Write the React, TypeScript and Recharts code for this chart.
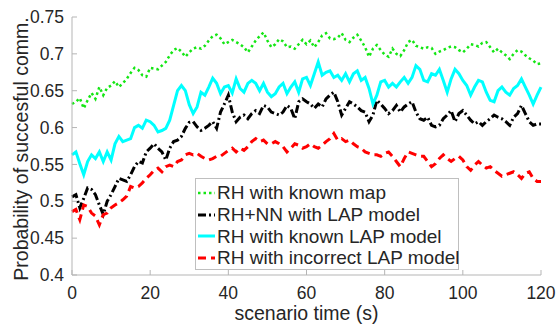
import { Line, LineChart, XAxis, YAxis } from 'recharts';

const FONT = '"Liberation Sans", Arial, Helvetica, sans-serif';
const TEXT = '#262626';
const AXIS = '#b5b5b5';

const seconds = [
  0, 1, 2, 3, 4, 5, 6, 7, 8, 9, 10, 11, 12, 13, 14, 15, 16, 17, 18, 19, 20, 21, 22, 23, 24, 25, 26, 27, 28, 29,
  30, 31, 32, 33, 34, 35, 36, 37, 38, 39, 40, 41, 42, 43, 44, 45, 46, 47, 48, 49, 50, 51, 52, 53, 54, 55, 56, 57, 58, 59,
  60, 61, 62, 63, 64, 65, 66, 67, 68, 69, 70, 71, 72, 73, 74, 75, 76, 77, 78, 79, 80, 81, 82, 83, 84, 85, 86, 87, 88, 89,
  90, 91, 92, 93, 94, 95, 96, 97, 98, 99, 100, 101, 102, 103, 104, 105, 106, 107, 108, 109, 110, 111, 112, 113, 114, 115, 116, 117, 118, 119, 120,
];

const knownMap = [
  0.632, 0.635, 0.64, 0.626, 0.637, 0.647, 0.639, 0.655, 0.644, 0.654, 0.657, 0.663, 0.655, 0.66, 0.666, 0.674, 0.681, 0.678, 0.671, 0.669,
  0.681, 0.68, 0.679, 0.684, 0.689, 0.698, 0.705, 0.708, 0.703, 0.696, 0.702, 0.707, 0.709, 0.707, 0.711, 0.718, 0.724, 0.726, 0.721, 0.713,
  0.716, 0.719, 0.716, 0.713, 0.709, 0.702, 0.71, 0.718, 0.724, 0.729, 0.718, 0.709, 0.713, 0.72, 0.717, 0.709, 0.71, 0.707, 0.713, 0.719,
  0.713, 0.718, 0.709, 0.716, 0.725, 0.728, 0.721, 0.72, 0.722, 0.728, 0.719, 0.716, 0.722, 0.726, 0.718, 0.709, 0.696, 0.707, 0.712, 0.705,
  0.699, 0.696, 0.707, 0.7, 0.697, 0.705, 0.716, 0.719, 0.711, 0.709, 0.707, 0.709, 0.708, 0.7, 0.703, 0.705, 0.708, 0.71, 0.709, 0.705,
  0.702, 0.707, 0.713, 0.712, 0.71, 0.715, 0.716, 0.709, 0.702, 0.707, 0.702, 0.698, 0.693, 0.7, 0.705, 0.703, 0.698, 0.694, 0.691, 0.686, 0.687,
];

const nnLap = [
  0.506, 0.509, 0.491, 0.504, 0.518, 0.516, 0.509, 0.495, 0.482, 0.5, 0.509, 0.52, 0.531, 0.529, 0.527, 0.536, 0.547, 0.554, 0.552, 0.567,
  0.572, 0.578, 0.572, 0.567, 0.556, 0.572, 0.581, 0.583, 0.588, 0.599, 0.607, 0.608, 0.601, 0.596, 0.599, 0.603, 0.608, 0.599, 0.621, 0.632,
  0.644, 0.621, 0.608, 0.614, 0.617, 0.612, 0.619, 0.623, 0.619, 0.63, 0.628, 0.621, 0.619, 0.617, 0.621, 0.63, 0.626, 0.612, 0.635, 0.639,
  0.635, 0.632, 0.626, 0.632, 0.628, 0.639, 0.644, 0.648, 0.635, 0.617, 0.626, 0.635, 0.632, 0.628, 0.623, 0.621, 0.608, 0.617, 0.637, 0.632,
  0.626, 0.619, 0.623, 0.63, 0.621, 0.628, 0.632, 0.635, 0.621, 0.612, 0.61, 0.614, 0.603, 0.601, 0.603, 0.612, 0.617, 0.623, 0.608, 0.619,
  0.623, 0.617, 0.61, 0.605, 0.608, 0.603, 0.608, 0.612, 0.617, 0.614, 0.612, 0.608, 0.603, 0.614, 0.619, 0.63, 0.619, 0.608, 0.603, 0.605, 0.605,
];

const knownLap = [
  0.563, 0.567, 0.551, 0.536, 0.554, 0.563, 0.558, 0.567, 0.554, 0.567, 0.556, 0.578, 0.588, 0.581, 0.583, 0.585, 0.6, 0.603, 0.599, 0.61,
  0.608, 0.603, 0.594, 0.596, 0.599, 0.61, 0.63, 0.65, 0.657, 0.65, 0.631, 0.619, 0.628, 0.648, 0.644, 0.655, 0.667, 0.66, 0.646, 0.655,
  0.657, 0.647, 0.666, 0.653, 0.648, 0.66, 0.664, 0.66, 0.65, 0.66, 0.648, 0.642, 0.646, 0.655, 0.66, 0.646, 0.655, 0.662, 0.648, 0.666,
  0.668, 0.657, 0.673, 0.689, 0.671, 0.675, 0.677, 0.668, 0.671, 0.664, 0.673, 0.662, 0.673, 0.677, 0.664, 0.668, 0.653, 0.632, 0.644, 0.662,
  0.664, 0.655, 0.66, 0.655, 0.662, 0.668, 0.66, 0.668, 0.684, 0.679, 0.664, 0.662, 0.673, 0.671, 0.679, 0.664, 0.648, 0.666, 0.679, 0.673,
  0.664, 0.657, 0.644, 0.655, 0.664, 0.662, 0.648, 0.637, 0.635, 0.65, 0.655, 0.648, 0.644, 0.653, 0.657, 0.666, 0.655, 0.644, 0.632, 0.644, 0.655,
];

const wrongLap = [
  0.486, 0.489, 0.475, 0.495, 0.493, 0.484, 0.48, 0.468, 0.482, 0.484, 0.491, 0.495, 0.498, 0.502, 0.507, 0.52, 0.518, 0.52, 0.525, 0.531,
  0.536, 0.542, 0.545, 0.54, 0.547, 0.549, 0.547, 0.554, 0.556, 0.563, 0.565, 0.563, 0.565, 0.561, 0.558, 0.556, 0.558, 0.561, 0.561, 0.565,
  0.569, 0.572, 0.567, 0.572, 0.569, 0.574, 0.581, 0.585, 0.581, 0.583, 0.578, 0.578, 0.581, 0.578, 0.574, 0.567, 0.572, 0.578, 0.576, 0.572,
  0.574, 0.578, 0.574, 0.572, 0.576, 0.581, 0.585, 0.592, 0.583, 0.585, 0.581, 0.583, 0.578, 0.574, 0.572, 0.567, 0.565, 0.563, 0.563, 0.561,
  0.565, 0.567, 0.561, 0.554, 0.547, 0.558, 0.567, 0.565, 0.563, 0.561, 0.561, 0.554, 0.547, 0.551, 0.558, 0.563, 0.558, 0.554, 0.558, 0.561,
  0.556, 0.547, 0.542, 0.549, 0.554, 0.549, 0.545, 0.547, 0.542, 0.538, 0.534, 0.536, 0.538, 0.54, 0.536, 0.531, 0.538, 0.54, 0.531, 0.527, 0.527,
];

const xTicks = [0, 20, 40, 60, 80, 100, 120];
const yTicks = [0.4, 0.45, 0.5, 0.55, 0.6, 0.65, 0.7, 0.75];

const series = [
  { key: 'knownMap', name: 'RH with known map', color: '#14e614', width: 2.5, dash: '2.5 3' },
  { key: 'nnLap', name: 'RH+NN with LAP model', color: '#000000', width: 3, dash: '8 3 2 3' },
  { key: 'knownLap', name: 'RH with known LAP model', color: '#00ffff', width: 3, dash: undefined },
  { key: 'wrongLap', name: 'RH with incorrect LAP model', color: '#ff0000', width: 3, dash: '8 5' },
];

const data = seconds.map((t, i) => ({
  t,
  knownMap: knownMap[i],
  nnLap: nnLap[i],
  knownLap: knownLap[i],
  wrongLap: wrongLap[i],
}));

function LegendBox() {
  return (
    <div
      style={{
        position: 'absolute',
        left: 195,
        top: 178,
        width: 264,
        height: 92,
        border: '1px solid #bfbfbf',
        background: '#fff',
        boxSizing: 'border-box',
        padding: '3px 0 0 0',
        fontFamily: FONT,
        fontSize: 19,
        color: TEXT,
      }}
    >
      {series.map((s) => (
        <div key={s.key} style={{ display: 'flex', alignItems: 'center', height: 21.7, lineHeight: '21px' }}>
          <svg width={19} height={10} style={{ marginLeft: 2, marginRight: 0, flex: 'none' }}>
            <line x1={0} y1={5} x2={17} y2={5} stroke={s.color} strokeWidth={s.width} strokeDasharray={s.dash} />
          </svg>
          <span style={{ whiteSpace: 'nowrap' }}>{s.name}</span>
        </div>
      ))}
    </div>
  );
}

export default function App() {
  return (
    <div style={{ position: 'absolute', left: 0, top: 0, width: 560, height: 325, background: '#fff' }}>
      <LineChart width={560} height={325} data={data} margin={{ top: 17, right: 19, left: 0, bottom: 0 }}>
        <XAxis
          dataKey="t"
          type="number"
          domain={[0, 120]}
          ticks={xTicks}
          interval={0}
          height={50}
          stroke={AXIS}
          tickSize={-5}
          tickMargin={17}
          tick={{ fill: TEXT, fontSize: 17.5, fontFamily: FONT }}
          label={{ value: 'scenario time (s)', position: 'insideBottom', offset: 5, fill: TEXT, fontSize: 19.5, fontFamily: FONT }}
        />
        <YAxis
          type="number"
          domain={[0.4, 0.75]}
          ticks={yTicks}
          interval={0}
          width={72}
          stroke={AXIS}
          tickSize={-5}
          tickMargin={13}
          tick={{ fill: TEXT, fontSize: 17.5, fontFamily: FONT }}
          label={{ value: 'Probability of succesful comm.', angle: -90, position: 'center', dx: -15, dy: 3, fill: TEXT, fontSize: 19.5, fontFamily: FONT }}
        />
        {series.map((s) => (
          <Line
            key={s.key}
            type="linear"
            dataKey={s.key}
            name={s.name}
            stroke={s.color}
            strokeWidth={s.width}
            strokeDasharray={s.dash}
            dot={false}
            isAnimationActive={false}
          />
        ))}
      </LineChart>
      <LegendBox />
    </div>
  );
}
